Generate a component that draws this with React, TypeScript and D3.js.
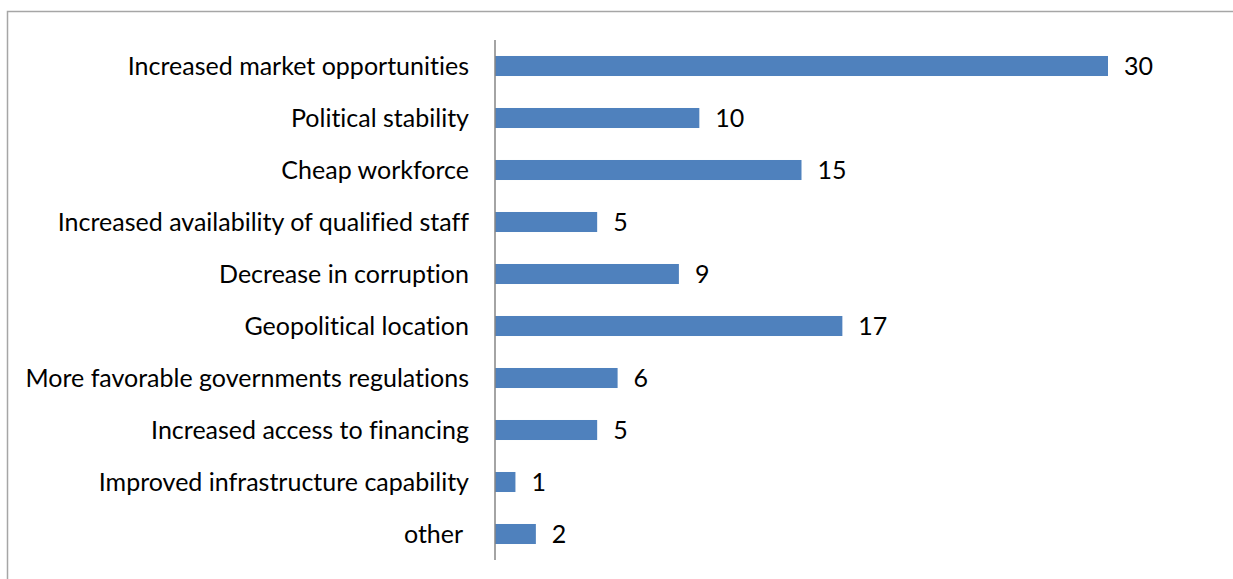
import React from "react";
import * as d3 from "d3";

const categories = [
  "Increased market opportunities",
  "Political stability",
  "Cheap workforce",
  "Increased availability of qualified staff",
  "Decrease in corruption",
  "Geopolitical location",
  "More favorable governments regulations",
  "Increased access to financing",
  "Improved infrastructure capability",
  "other ",
];
const values = [30, 10, 15, 5, 9, 17, 6, 5, 1, 2];

const W = 1233;
const H = 579;
const axisX = 495;
const font = "Lato, 'Open Sans', sans-serif";

export default function App() {
  const x = d3.scaleLinear().domain([0, 30]).range([axisX, 1108]);
  const y = d3.scaleBand<string>().domain(categories).range([40, 560]).paddingInner(0.615).paddingOuter(0.3075);
  const ts = { whiteSpace: "pre" as const, fontVariantLigatures: "none" as const };
  return (
    <svg width={W} height={H} style={{ position: "absolute", left: 0, top: 0 }}>
      <rect x={0} y={0} width={W} height={H} fill="#fff" />
      <path d="M7.5,590 V11.5 H1240" fill="none" stroke="#a6a6a6" strokeWidth={1.5} />
      {categories.map((c, i) => (
        <g key={c}>
          <rect x={x(0)} y={y(c)!} width={x(values[i]) - x(0)} height={y.bandwidth()} fill="#4f81bd" />
          <text x={469} y={y(c)! + y.bandwidth() / 2} dy="0.35em" textAnchor="end" fontFamily={font} fontSize={25} fill="#000" style={ts}>
            {c}
          </text>
          <text x={x(values[i]) + 16} y={y(c)! + y.bandwidth() / 2} dy="0.35em" fontFamily={font} fontSize={25} fill="#000">
            {values[i]}
          </text>
        </g>
      ))}
      <line x1={axisX} x2={axisX} y1={40} y2={560} stroke="#868686" strokeWidth={1.5} />
    </svg>
  );
}
